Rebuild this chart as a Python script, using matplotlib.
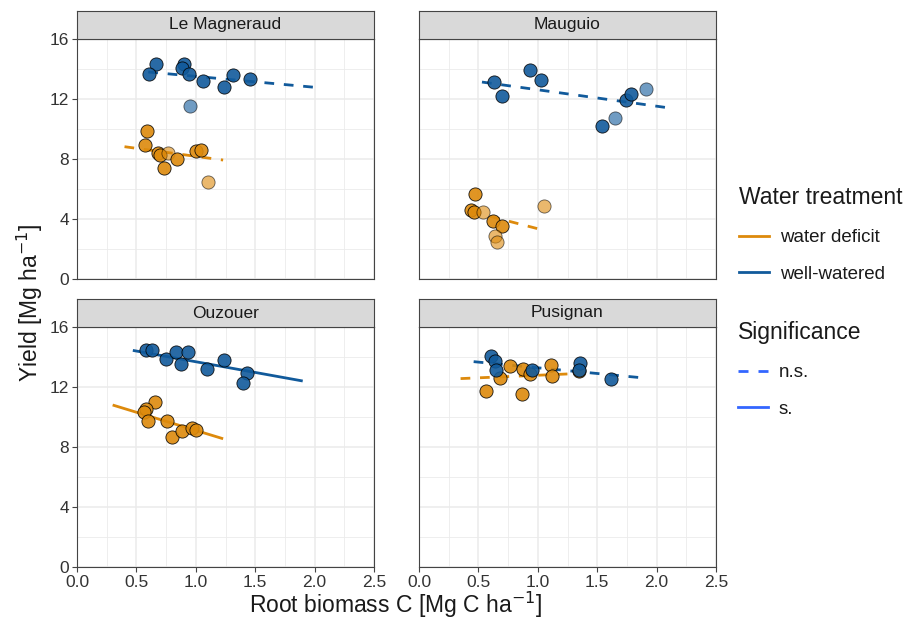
import matplotlib.pyplot as plt
from matplotlib.lines import Line2D
from matplotlib.ticker import MultipleLocator

plt.rcParams['font.family'] = ['Liberation Sans', 'DejaVu Sans']

sites = ['Le Magneraud', 'Mauguio', 'Ouzouer', 'Pusignan']

# season 1 = first campaign (solid), season 2 = second campaign (faded)
# Le Magneraud
mag_ww_root = [0.665, 0.609, 0.900, 0.887, 0.945, 1.064, 1.237, 1.310, 1.456, 0.951]
mag_ww_yield = [14.35, 13.65, 14.35, 14.10, 13.67, 13.18, 12.78, 13.62, 13.35, 11.55]
mag_ww_season = [1, 1, 1, 1, 1, 1, 1, 1, 1, 2]
mag_wd_root = [0.592, 0.575, 0.682, 0.700, 0.769, 0.730, 0.845, 1.005, 1.047, 1.106]
mag_wd_yield = [9.89, 8.93, 8.38, 8.27, 8.42, 7.42, 7.98, 8.56, 8.62, 6.49]
mag_wd_season = [1, 1, 1, 1, 2, 1, 1, 1, 1, 2]

# Mauguio
mau_ww_root = [0.633, 0.695, 0.937, 1.027, 1.542, 1.651, 1.744, 1.786, 1.913]
mau_ww_yield = [13.11, 12.22, 13.93, 13.24, 10.20, 10.73, 11.93, 12.31, 12.67]
mau_ww_season = [1, 1, 1, 1, 1, 2, 1, 1, 2]
mau_wd_root = [0.473, 0.439, 0.461, 0.537, 0.622, 0.698, 0.636, 0.658, 1.052]
mau_wd_yield = [5.64, 4.58, 4.47, 4.49, 3.87, 3.51, 2.89, 2.45, 4.84]
mau_wd_season = [1, 1, 1, 2, 1, 1, 2, 2, 2]

# Ouzouer
ouz_ww_root = [0.581, 0.629, 0.749, 0.831, 0.875, 0.937, 1.097, 1.240, 1.428, 1.397]
ouz_ww_yield = [14.47, 14.47, 13.87, 14.33, 13.53, 14.33, 13.18, 13.82, 12.91, 12.29]
ouz_ww_season = [1, 1, 1, 1, 1, 1, 1, 1, 1, 1]
ouz_wd_root = [0.657, 0.581, 0.564, 0.595, 0.755, 0.797, 0.881, 0.968, 0.999]
ouz_wd_yield = [11.00, 10.56, 10.36, 9.71, 9.73, 8.69, 9.09, 9.29, 9.13]
ouz_wd_season = [1, 1, 1, 1, 1, 1, 1, 1, 1]

# Pusignan
pus_ww_root = [0.608, 0.641, 0.647, 0.948, 1.353, 1.348, 1.620]
pus_ww_yield = [14.04, 13.76, 13.11, 13.13, 13.60, 13.13, 12.56]
pus_ww_season = [1, 1, 1, 1, 1, 1, 1]
pus_wd_root = [0.568, 0.686, 0.762, 0.878, 0.867, 0.934, 1.111, 1.120, 1.350]
pus_wd_yield = [11.71, 12.58, 13.38, 13.18, 11.55, 12.84, 13.47, 12.76, 13.10]
pus_wd_season = [1, 1, 1, 1, 1, 1, 1, 1, 1]

# regression lines: [x start, x end, y start, y end]
mag_ww_fit = [0.60, 2.00, 13.80, 12.78]
mag_wd_fit = [0.40, 1.23, 8.82, 7.93]
mau_ww_fit = [0.53, 2.11, 13.13, 11.40]
mau_wd_fit = [0.44, 1.04, 4.50, 3.27]
ouz_ww_fit = [0.47, 1.90, 14.44, 12.40]
ouz_wd_fit = [0.30, 1.23, 10.80, 8.55]
pus_ww_fit = [0.46, 1.87, 13.69, 12.62]
pus_wd_fit = [0.35, 1.37, 12.56, 12.91]

signif_ww = [False, False, True, False]
signif_wd = [False, False, True, False]

root_ww = [mag_ww_root, mau_ww_root, ouz_ww_root, pus_ww_root]
yield_ww = [mag_ww_yield, mau_ww_yield, ouz_ww_yield, pus_ww_yield]
season_ww = [mag_ww_season, mau_ww_season, ouz_ww_season, pus_ww_season]
root_wd = [mag_wd_root, mau_wd_root, ouz_wd_root, pus_wd_root]
yield_wd = [mag_wd_yield, mau_wd_yield, ouz_wd_yield, pus_wd_yield]
season_wd = [mag_wd_season, mau_wd_season, ouz_wd_season, pus_wd_season]
fit_ww = [mag_ww_fit, mau_ww_fit, ouz_ww_fit, pus_ww_fit]
fit_wd = [mag_wd_fit, mau_wd_fit, ouz_wd_fit, pus_wd_fit]

col_wd = '#DD8A0C'
col_ww = '#115A9B'
col_sig = '#3366FF'
alpha_of = {1: 0.9, 2: 0.6}

W, H = 916, 625
fig = plt.figure(figsize=(W / 100, H / 100), dpi=100)

panel_left = [77, 419, 77, 419]
panel_top = [39, 39, 327, 327]
panel_w, panel_h, strip_h = 297, 240, 28


def draw_treatment(ax, xs, ys, seasons, fit, signif, color):
    ls = '-' if signif else (0, (3.5, 3.5))
    ax.plot(fit[:2], fit[2:], color=color, lw=2.0, linestyle=ls, zorder=3,
            solid_capstyle='butt')
    for x, y, s in zip(xs, ys, seasons):
        ax.scatter(x, y, s=90, color=color, alpha=alpha_of[s],
                   edgecolors='black', linewidths=0.6, zorder=4)


for i, site in enumerate(sites):
    l = panel_left[i] / W
    b = (H - panel_top[i] - panel_h) / H
    ax = fig.add_axes([l, b, panel_w / W, panel_h / H])
    ax.set_xlim(0, 2.5)
    ax.set_ylim(0, 16)
    ax.xaxis.set_major_locator(MultipleLocator(0.5))
    ax.xaxis.set_minor_locator(MultipleLocator(0.25))
    ax.yaxis.set_major_locator(MultipleLocator(4))
    ax.yaxis.set_minor_locator(MultipleLocator(2))
    ax.grid(which='major', color='#EBEBEB', lw=1.1, zorder=0)
    ax.grid(which='minor', color='#EBEBEB', lw=0.6, zorder=0)
    ax.set_axisbelow(True)
    for sp in ax.spines.values():
        sp.set_color('#444444')
        sp.set_linewidth(0.8)
    ax.tick_params(which='minor', length=0)
    ax.tick_params(which='major', length=3.5, width=0.8, color='#444444',
                   labelsize=12.5, labelcolor='#333333', pad=2)
    if i % 2 == 1:
        ax.tick_params(axis='y', which='major', length=0, labelleft=False)
    if i < 2:
        ax.tick_params(axis='x', which='major', length=0, labelbottom=False)
    else:
        ax.xaxis.set_major_formatter(lambda v, p: f'{v:.1f}')

    draw_treatment(ax, root_wd[i], yield_wd[i], season_wd[i], fit_wd[i],
                   signif_wd[i], col_wd)
    draw_treatment(ax, root_ww[i], yield_ww[i], season_ww[i], fit_ww[i],
                   signif_ww[i], col_ww)

    # facet strip
    sb = (H - panel_top[i]) / H
    strip = fig.add_axes([l, sb, panel_w / W, strip_h / H])
    strip.set_facecolor('#D9D9D9')
    strip.set_xticks([])
    strip.set_yticks([])
    for sp in strip.spines.values():
        sp.set_color('#444444')
        sp.set_linewidth(0.8)
    strip.text(0.5, 0.5, site, ha='center', va='center', fontsize=12.5,
               color='#1A1A1A', transform=strip.transAxes)

fig.text(30 / W, 1 - 303 / H, 'Yield [Mg ha$^{-1}$]', rotation=90,
         ha='center', va='center', fontsize=16.5, color='#1A1A1A')
fig.text(396 / W, 1 - 605 / H, 'Root biomass C [Mg C ha$^{-1}$]',
         ha='center', va='center', fontsize=16.5, color='#1A1A1A')

legend_kw = dict(loc='upper left', frameon=False, fontsize=13.5,
                 title_fontsize=16.5, alignment='left', borderpad=0,
                 handlelength=1.6, labelspacing=1.05, handletextpad=0.55)

water_handles = [Line2D([], [], color=col_wd, lw=2),
                 Line2D([], [], color=col_ww, lw=2)]
leg1 = fig.legend(water_handles, ['water deficit', 'well-watered'],
                  title='Water treatment',
                  bbox_to_anchor=(730 / W, 1 - 177 / H), **legend_kw)
sig_handles = [Line2D([], [], color=col_sig, lw=2, linestyle=(0, (3.6, 3.6))),
               Line2D([], [], color=col_sig, lw=2)]
leg2 = fig.legend(sig_handles, ['n.s.', 's.'], title='Significance',
                  bbox_to_anchor=(729 / W, 1 - 312 / H), **legend_kw)
for leg in (leg1, leg2):
    leg.get_title().set_color('#1A1A1A')
    for t in leg.get_texts():
        t.set_color('#1A1A1A')

fig.savefig('out.png', dpi=100)
